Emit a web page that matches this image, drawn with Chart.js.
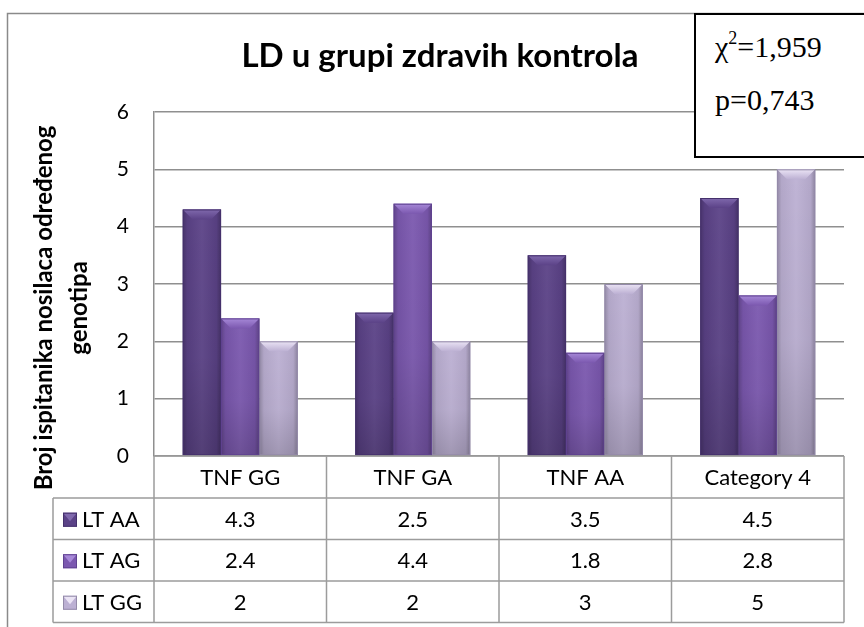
<!DOCTYPE html>
<html>
<head>
<meta charset="utf-8">
<script src="https://cdn.jsdelivr.net/npm/chart.js@4.4.1/dist/chart.umd.min.js"></script>
<style>
  body { margin: 0; background: #fff; }
  #wrap { position: relative; width: 864px; height: 627px; overflow: hidden; }
  #stat {
    position: absolute; left: 694px; top: 13px; width: 200px; height: 141px;
    border: 2px solid #000; background: #fff;
    font-family: "Liberation Serif", "Times New Roman", serif; font-size: 30px; color: #000;
  }
  #stat div { position: absolute; left: 19px; line-height: 32px; white-space: nowrap; }
  #stat sup { font-size: 18px; vertical-align: 13px; line-height: 0; }
</style>
</head>
<body>
<div id="wrap">
  <canvas id="chart" width="864" height="627"></canvas>
  <div id="stat">
    <div style="top:16px">&chi;<sup>2</sup>=1,959</div>
    <div style="top:69px">p=0,743</div>
  </div>
</div>
<script>
// podaci
const categories = ['TNF GG', 'TNF GA', 'TNF AA', 'Category 4'];
const seriesNames = ['LT AA', 'LT AG', 'LT GG'];
const ltAA = [4.3, 2.5, 3.5, 4.5];
const ltAG = [2.4, 4.4, 1.8, 2.8];
const ltGG = [2, 2, 3, 5];
const yTicks = [0, 1, 2, 3, 4, 5, 6];
const chartTitle = 'LD u grupi zdravih kontrola';
const yTitle = ['Broj ispitanika nosilaca određenog', 'genotipa'];

// boje (osnovna, svijetla kosina, tamna)
const colors = [
  { base: '#5b4287', light: '#8069ad', dark: '#45316c' },
  { base: '#7b58af', light: '#a789d8', dark: '#5f4290' },
  { base: '#bcb0d3', light: '#ebe4f5', dark: '#948aa9' }
];
const FONT = 'Lato, "Open Sans", sans-serif';

// okvir grafika
const framePlugin = {
  id: 'frame',
  beforeDraw(chart) {
    const c = chart.ctx;
    c.save();
    c.fillStyle = '#fff';
    c.fillRect(0, 0, chart.width, chart.height);
    c.strokeStyle = '#8a8a8a';
    c.lineWidth = 1.5;
    c.strokeRect(7.5, 13.5, 1000, 1000);
    c.restore();
  }
};

// 3D izgled stupaca
const bevelPlugin = {
  id: 'bevel',
  afterDatasetsDraw(chart) {
    const c = chart.ctx;
    chart.data.datasets.forEach((ds, di) => {
      const meta = chart.getDatasetMeta(di);
      const col = colors[di];
      meta.data.forEach(bar => {
        const l = bar.x - bar.width / 2, r = bar.x + bar.width / 2;
        const t = bar.y, b = bar.base, h = b - t;
        if (h <= 0) return;
        c.save();
        // bocno sjenčanje
        let g = c.createLinearGradient(l, 0, r, 0);
        g.addColorStop(0, 'rgba(0,0,0,0.22)');
        g.addColorStop(0.12, 'rgba(0,0,0,0.05)');
        g.addColorStop(0.5, 'rgba(255,255,255,0.05)');
        g.addColorStop(0.88, 'rgba(0,0,0,0.05)');
        g.addColorStop(1, 'rgba(0,0,0,0.25)');
        c.fillStyle = g;
        c.fillRect(l, t, r - l, h);
        // tamnije pri dnu
        g = c.createLinearGradient(0, t, 0, b);
        g.addColorStop(0, 'rgba(0,0,0,0)');
        g.addColorStop(0.6, 'rgba(0,0,0,0.03)');
        g.addColorStop(1, 'rgba(0,0,0,0.16)');
        c.fillStyle = g;
        c.fillRect(l, t, r - l, h);
        // gornja kosina
        const k = Math.min(10, h / 2);
        g = c.createLinearGradient(0, t, 0, t + k);
        g.addColorStop(0, col.light);
        g.addColorStop(1, col.base);
        c.fillStyle = g;
        c.beginPath();
        c.moveTo(l, t); c.lineTo(r, t); c.lineTo(r - k, t + k); c.lineTo(l + k, t + k);
        c.closePath(); c.fill();
        // rubovi
        c.strokeStyle = col.dark;
        c.lineWidth = 1;
        c.strokeRect(l + 0.5, t + 0.5, r - l - 1, h - 1);
        c.restore();
      });
    });
  }
};

// naslov osi i tablica podataka
const tablePlugin = {
  id: 'dataTable',
  afterDraw(chart) {
    const c = chart.ctx;
    const area = chart.chartArea;
    const xs = chart.scales.x;
    const half = (xs.getPixelForValue(1) - xs.getPixelForValue(0)) / 2;
    const edges = categories.map((_, i) => xs.getPixelForValue(i) - half);
    edges.push(xs.getPixelForValue(categories.length - 1) + half);
    const top = area.bottom, headH = 42, rowH = 41.5, labelLeft = 53;
    const bottom = top + headH + rowH * seriesNames.length;
    const rows = [ltAA, ltAG, ltGG];

    c.save();
    // os Y naslov
    c.fillStyle = '#000';
    c.font = 'bold 24px ' + FONT;
    c.textAlign = 'center';
    c.textBaseline = 'middle';
    [44, 79].forEach((x, i) => {
      c.save();
      c.translate(x, 308);
      c.rotate(-Math.PI / 2);
      c.fillText(yTitle[i], 0, 0);
      c.restore();
    });

    // linije tablice
    c.strokeStyle = '#9c9c9c';
    c.lineWidth = 1.5;
    c.beginPath();
    edges.forEach(x => { c.moveTo(x, top); c.lineTo(x, bottom); });
    c.moveTo(edges[0], top); c.lineTo(edges[edges.length - 1], top);
    for (let r = 0; r <= rows.length; r++) {
      const y = top + headH + r * rowH;
      c.moveTo(labelLeft, y); c.lineTo(edges[edges.length - 1], y);
    }
    c.moveTo(labelLeft, top + headH); c.lineTo(labelLeft, bottom);
    c.stroke();

    // tekst
    c.fillStyle = '#000';
    c.font = '22px ' + FONT;
    c.textAlign = 'center';
    categories.forEach((cat, i) => c.fillText(cat, xs.getPixelForValue(i), top + headH / 2 + 1));
    rows.forEach((vals, r) => {
      const cy = top + headH + r * rowH + rowH / 2 + 1;
      vals.forEach((v, i) => c.fillText(String(v), xs.getPixelForValue(i), cy));
      // ključ legende
      const col = colors[r];
      const kx = 63, ky = cy - 7, ks = 14;
      c.fillStyle = col.base;
      c.fillRect(kx, ky, ks, ks);
      c.fillStyle = col.light;
      c.beginPath();
      c.moveTo(kx, ky); c.lineTo(kx + ks, ky); c.lineTo(kx + ks / 2, ky + ks * 0.6);
      c.closePath(); c.fill();
      c.strokeStyle = col.dark;
      c.lineWidth = 1;
      c.strokeRect(kx + 0.5, ky + 0.5, ks - 1, ks - 1);
      c.fillStyle = '#000';
      c.textAlign = 'left';
      c.fillText(seriesNames[r], 82, cy);
      c.textAlign = 'center';
    });
    c.restore();
  }
};

const data = {
  labels: categories,
  datasets: [ltAA, ltAG, ltGG].map((vals, i) => ({
    label: seriesNames[i],
    data: vals,
    backgroundColor: colors[i].base,
    borderWidth: 0,
    categoryPercentage: 0.667,
    barPercentage: 1.0
  }))
};

const config = {
  type: 'bar',
  data,
  options: {
    responsive: false,
    animation: false,
    layout: { padding: { left: 36, right: 20, top: 13, bottom: 171 } },
    plugins: {
      legend: { display: false },
      title: {
        display: true,
        text: chartTitle,
        color: '#000',
        font: { family: FONT, size: 33, weight: 'bold', lineHeight: 1.2 },
        padding: { top: 24, bottom: 112 - 13 - 24 - 39.6 }
      },
      tooltip: { enabled: true }
    },
    scales: {
      x: { display: false },
      y: {
        min: yTicks[0],
        max: yTicks[yTicks.length - 1],
        afterFit(scale) { scale.width = 118; },
        ticks: {
          stepSize: 1,
          color: '#000',
          padding: 25,
          font: { family: FONT, size: 21 }
        },
        grid: { color: '#8f8f8f', lineWidth: 1.5, drawTicks: false },
        border: { display: true, color: '#8f8f8f', width: 1.5 }
      }
    }
  },
  plugins: [framePlugin, bevelPlugin, tablePlugin]
};

const ctx = document.getElementById('chart');
const myChart = new Chart(ctx, config);
</script>
</body>
</html>
